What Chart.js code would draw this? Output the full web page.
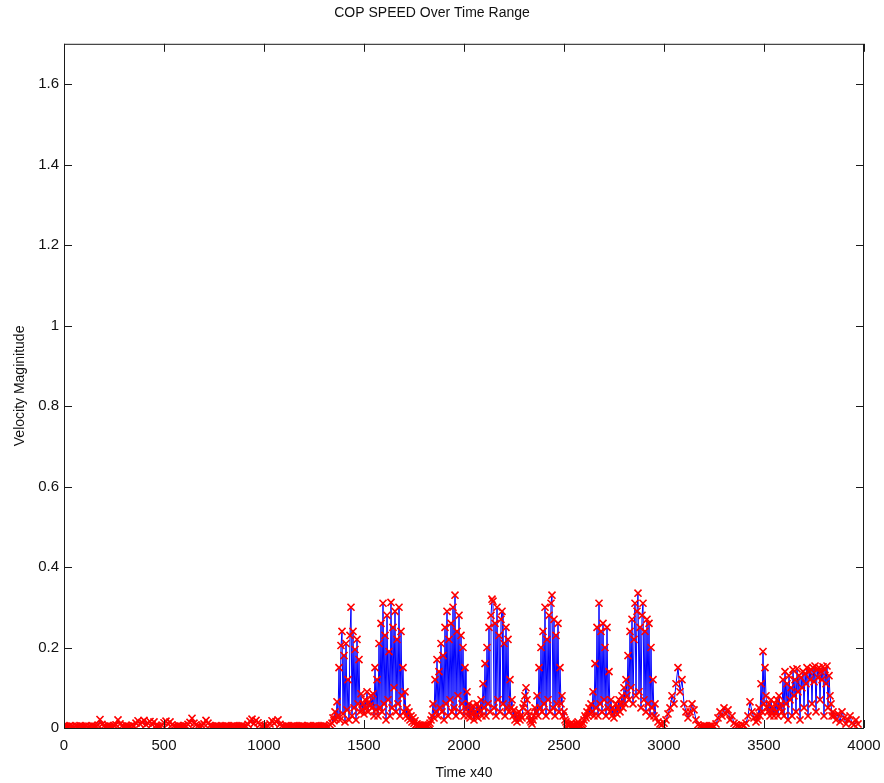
<!DOCTYPE html>
<html>
<head>
<meta charset="utf-8">
<title>COP SPEED Over Time Range</title>
<script src="https://cdn.jsdelivr.net/npm/chart.js@4/dist/chart.umd.min.js"></script>
<style>
  html, body { margin: 0; padding: 0; background: #fff; }
  #wrap { width: 884px; height: 783px; position: relative; }
</style>
</head>
<body>
<div id="wrap"><canvas id="cop-speed-chart" width="884" height="783"></canvas></div>
<script>
const quiet1Start = 0, quiet1Step = 10;
const speedQuiet1 = [
  0.004, 0.005, 0.004, 0.006, 0.004, 0.003, 0.005, 0.004, 0.006, 0.005,
  0.004, 0.005, 0.003, 0.004, 0.006, 0.005, 0.004, 0.007, 0.021, 0.009,
  0.005, 0.004, 0.006, 0.005, 0.004, 0.006, 0.008, 0.020, 0.010, 0.005,
  0.004, 0.006, 0.005, 0.004, 0.007, 0.005, 0.012, 0.018, 0.010, 0.014,
  0.019, 0.008, 0.012, 0.016, 0.009, 0.015, 0.006, 0.005, 0.004, 0.007,
  0.013, 0.017, 0.010, 0.015, 0.008, 0.005, 0.004, 0.006, 0.005, 0.004,
  0.006, 0.005, 0.009, 0.014, 0.024, 0.012, 0.008, 0.005, 0.004, 0.006,
  0.010, 0.019, 0.012, 0.006, 0.005, 0.004, 0.006, 0.005, 0.004, 0.005,
  0.004, 0.006, 0.005, 0.004, 0.005, 0.006, 0.004, 0.005, 0.004, 0.006,
  0.005, 0.004, 0.009, 0.017, 0.022, 0.011, 0.019, 0.013, 0.008, 0.005,
  0.006, 0.004, 0.005, 0.010, 0.018, 0.012, 0.016, 0.020, 0.009, 0.005,
  0.004, 0.006, 0.005, 0.004, 0.005, 0.006, 0.004, 0.005, 0.004, 0.006,
  0.005, 0.004, 0.006, 0.005, 0.004, 0.005, 0.006, 0.004, 0.005, 0.004,
  0.006, 0.005, 0.004, 0.008
];

const active1Start = 1340, active1Step = 5;
const speedActive1 = [
  0.012, 0.025, 0.018, 0.040, 0.022, 0.065, 0.030, 0.150, 0.020, 0.205,
  0.240, 0.035, 0.180, 0.015, 0.210, 0.045, 0.120, 0.020, 0.230, 0.300,
  0.030, 0.240, 0.050, 0.195, 0.020, 0.220, 0.060, 0.170, 0.040, 0.085,
  0.045, 0.060, 0.035, 0.070, 0.050, 0.090, 0.040, 0.065, 0.055, 0.080,
  0.050, 0.085, 0.030, 0.150, 0.045, 0.120, 0.030, 0.210, 0.050, 0.260,
  0.040, 0.310, 0.060, 0.230, 0.020, 0.280, 0.070, 0.190, 0.030, 0.312,
  0.050, 0.250, 0.100, 0.290, 0.040, 0.220, 0.060, 0.300, 0.030, 0.240,
  0.080, 0.150, 0.040, 0.090, 0.030, 0.050, 0.025, 0.040, 0.020, 0.030,
  0.015, 0.025, 0.012, 0.018, 0.008, 0.010, 0.006, 0.008, 0.005, 0.007,
  0.005, 0.006, 0.004, 0.005, 0.006, 0.004, 0.005, 0.008, 0.012, 0.020,
  0.030, 0.060, 0.025, 0.120, 0.040, 0.170, 0.030, 0.140, 0.050, 0.210,
  0.040, 0.180, 0.020, 0.250, 0.060, 0.290, 0.030, 0.220, 0.070, 0.260,
  0.040, 0.300, 0.050, 0.330, 0.030, 0.240, 0.080, 0.280, 0.040, 0.230,
  0.060, 0.200, 0.030, 0.150, 0.045, 0.090, 0.030, 0.060, 0.025, 0.045,
  0.035, 0.055, 0.020, 0.040, 0.030, 0.060, 0.025, 0.050, 0.040, 0.070,
  0.030, 0.110, 0.050, 0.160, 0.030, 0.200, 0.060, 0.250, 0.040, 0.280,
  0.320, 0.315, 0.050, 0.260, 0.030, 0.300, 0.070, 0.230, 0.040, 0.270,
  0.290, 0.060, 0.210, 0.030, 0.250, 0.050, 0.220, 0.040, 0.120, 0.050,
  0.070, 0.030, 0.045, 0.020, 0.035, 0.015, 0.025, 0.040, 0.020, 0.030,
  0.025, 0.050, 0.060, 0.080, 0.100, 0.070, 0.040, 0.030, 0.020, 0.015,
  0.010, 0.020, 0.030, 0.050, 0.040, 0.080, 0.030, 0.150, 0.050, 0.200,
  0.040, 0.240, 0.060, 0.300, 0.030, 0.220, 0.070, 0.280, 0.040, 0.310,
  0.330, 0.050, 0.270, 0.030, 0.230, 0.060, 0.260, 0.040, 0.150, 0.060,
  0.080, 0.030, 0.040, 0.020, 0.015, 0.010, 0.008, 0.006, 0.008, 0.012,
  0.006, 0.005, 0.008, 0.006, 0.005, 0.010, 0.015, 0.008, 0.006, 0.005,
  0.008, 0.012, 0.020, 0.030, 0.025, 0.040, 0.030, 0.050, 0.035, 0.060,
  0.040, 0.090, 0.030, 0.160, 0.050, 0.250, 0.030, 0.310, 0.060, 0.240,
  0.040, 0.260, 0.070, 0.200, 0.030, 0.250, 0.050, 0.140, 0.040, 0.070,
  0.030, 0.050, 0.025, 0.040, 0.060, 0.035, 0.050, 0.070, 0.040, 0.060,
  0.080, 0.050, 0.100, 0.060, 0.120, 0.080, 0.180, 0.070, 0.240, 0.100,
  0.270, 0.060, 0.220, 0.310, 0.080, 0.290, 0.335, 0.090, 0.250, 0.050,
  0.280, 0.310, 0.070, 0.240, 0.040, 0.270, 0.060, 0.260, 0.030, 0.200,
  0.050, 0.120, 0.030, 0.060
];

const quiet2Start = 2960, quiet2Step = 10;
const speedQuiet2 = [
  0.025, 0.015, 0.010, 0.008, 0.012, 0.020, 0.035, 0.050, 0.080, 0.060,
  0.110, 0.150, 0.090, 0.120, 0.060, 0.040, 0.025, 0.040, 0.060, 0.045,
  0.020, 0.008, 0.005, 0.004, 0.006, 0.005, 0.004, 0.005, 0.006, 0.004,
  0.010, 0.025, 0.040, 0.030, 0.050, 0.035, 0.045, 0.020, 0.030, 0.012,
  0.008, 0.006, 0.005, 0.008, 0.006, 0.012, 0.030, 0.065, 0.040, 0.025
];

const active2Start = 3460, active2Step = 5;
const speedActive2 = [
  0.015, 0.030, 0.020, 0.050, 0.030, 0.110, 0.040, 0.190, 0.060, 0.150,
  0.080, 0.050, 0.040, 0.060, 0.030, 0.070, 0.040, 0.050, 0.030, 0.060,
  0.040, 0.070, 0.030, 0.080, 0.050, 0.060, 0.040, 0.120, 0.030, 0.140,
  0.060, 0.110, 0.020, 0.130, 0.070, 0.100, 0.030, 0.145, 0.080, 0.120,
  0.040, 0.147, 0.090, 0.130, 0.020, 0.125, 0.100, 0.140, 0.050, 0.135,
  0.110, 0.150, 0.030, 0.140, 0.120, 0.145, 0.060, 0.150, 0.115, 0.154,
  0.040, 0.145, 0.125, 0.150, 0.070, 0.140, 0.120, 0.152, 0.030, 0.145,
  0.110, 0.154, 0.050, 0.130, 0.080, 0.060, 0.030, 0.040
];

const quiet3Start = 3850, quiet3Step = 10;
const speedQuiet3 = [
  0.030, 0.020, 0.035, 0.015, 0.040, 0.025, 0.010, 0.020, 0.030, 0.012,
  0.008, 0.020, 0.010
];

const xTicks = [0, 500, 1000, 1500, 2000, 2500, 3000, 3500, 4000];
const yTicks = [0, 0.2, 0.4, 0.6, 0.8, 1, 1.2, 1.4, 1.6];

const segments = [
  [quiet1Start, quiet1Step, speedQuiet1],
  [active1Start, active1Step, speedActive1],
  [quiet2Start, quiet2Step, speedQuiet2],
  [active2Start, active2Step, speedActive2],
  [quiet3Start, quiet3Step, speedQuiet3]
];

const points = [];
segments.forEach(([start, step, values]) => {
  values.forEach((v, i) => points.push({ x: start + i * step, y: v }));
});

const FONT = "'Liberation Sans', Arial, Helvetica, sans-serif";

// matlab style box with inward ticks on all four sides
const boxPlugin = {
  id: "matlabBox",
  afterDraw(chart) {
    const { ctx, chartArea } = chart;
    const { left, right, top, bottom } = chartArea;
    const xs = chart.scales.x;
    const ys = chart.scales.y;
    const len = 8;
    ctx.save();
    ctx.strokeStyle = "#1a1a1a";
    ctx.lineWidth = 1;
    ctx.strokeRect(left + 0.5, top + 0.5, right - left - 1, bottom - top);
    ctx.beginPath();
    xTicks.forEach((v) => {
      const px = Math.round(xs.getPixelForValue(v)) + 0.5;
      ctx.moveTo(px, bottom);
      ctx.lineTo(px, bottom - len);
      ctx.moveTo(px, top);
      ctx.lineTo(px, top + len);
    });
    yTicks.forEach((v) => {
      const py = Math.round(ys.getPixelForValue(v)) + 0.5;
      ctx.moveTo(left, py);
      ctx.lineTo(left + len, py);
      ctx.moveTo(right, py);
      ctx.lineTo(right - len, py);
    });
    ctx.stroke();
    ctx.restore();
  }
};

new Chart(document.getElementById("cop-speed-chart"), {
  type: "line",
  data: {
    datasets: [
      {
        label: "COP speed",
        data: points,
        borderColor: "#0000ff",
        borderWidth: 1,
        tension: 0,
        fill: false,
        pointStyle: "crossRot",
        pointRadius: 5,
        pointBorderColor: "#ff0000",
        pointBackgroundColor: "#ff0000",
        pointBorderWidth: 1.6
      }
    ]
  },
  options: {
    responsive: false,
    animation: false,
    devicePixelRatio: 1,
    layout: {
      padding: { left: 0, right: 20, top: 0, bottom: 0 }
    },
    plugins: {
      legend: { display: false },
      tooltip: { enabled: false },
      title: {
        display: true,
        text: "COP SPEED Over Time Range",
        color: "#111",
        font: { family: FONT, size: 14, weight: "normal" },
        padding: { top: 5, bottom: 22 }
      }
    },
    scales: {
      x: {
        type: "linear",
        min: 0,
        max: 4000,
        grid: { display: false, drawTicks: false },
        border: { display: false },
        afterFit: (scale) => {
          scale.height = 55;
          scale.paddingLeft = 0;
          scale.paddingRight = 0;
        },
        afterBuildTicks: (scale) => { scale.ticks = xTicks.map((v) => ({ value: v })); },
        ticks: {
          color: "#111",
          padding: 9,
          maxRotation: 0,
          font: { family: FONT, size: 15 },
          callback: (v) => String(v)
        },
        title: {
          display: true,
          text: "Time x40",
          color: "#111",
          font: { family: FONT, size: 14 },
          padding: { top: 0, bottom: 1 }
        }
      },
      y: {
        min: 0,
        max: 1.7,
        grid: { display: false, drawTicks: false },
        border: { display: false },
        afterFit: (scale) => {
          scale.width = 64;
          scale.paddingTop = 0;
          scale.paddingBottom = 0;
        },
        afterBuildTicks: (scale) => { scale.ticks = yTicks.map((v) => ({ value: v })); },
        ticks: {
          color: "#111",
          padding: 5,
          font: { family: FONT, size: 15 },
          callback: (v) => String(Math.round(v * 10) / 10)
        },
        title: {
          display: true,
          text: "Velocity Maginitude",
          color: "#111",
          font: { family: FONT, size: 14 },
          padding: { top: 12, bottom: 0 }
        }
      }
    }
  },
  plugins: [boxPlugin]
});
</script>
</body>
</html>
